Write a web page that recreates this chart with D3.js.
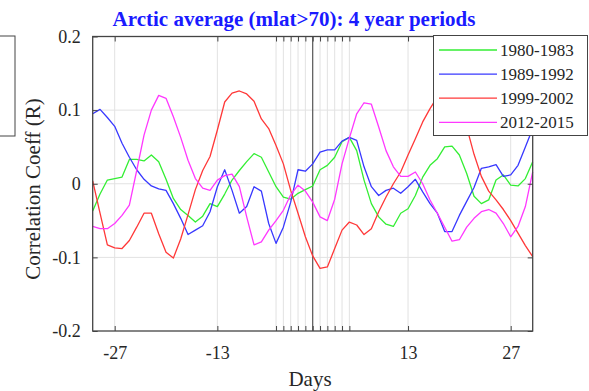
<!DOCTYPE html>
<html>
<head>
<meta charset="utf-8">
<script src="https://cdn.jsdelivr.net/npm/d3@7"></script>
<style>
  body { margin: 0; background: #fff; }
  svg { display: block; font-family: "Liberation Serif", "Times New Roman", serif; }
</style>
</head>
<body>
<svg id="chart" width="589" height="391"></svg>
<script>
const days = [-30, -29, -28, -27, -26, -25, -24, -23, -22, -21, -20, -19, -18, -17, -16, -15,
  -14, -13, -12, -11, -10, -9, -8, -7, -6, -5, -4, -3, -2, -1, 0, 1, 2, 3, 4, 5, 6, 7, 8, 9,
  10, 11, 12, 13, 14, 15, 16, 17, 18, 19, 20, 21, 22, 23, 24, 25, 26, 27, 28, 29, 30];

const r1980 = [-0.037, -0.014, 0.005, 0.007, 0.009, 0.033, 0.033, 0.031, 0.039, 0.030, 0.006,
  -0.020, -0.035, -0.043, -0.052, -0.044, -0.027, -0.031, -0.014, 0.005, 0.018, 0.030, 0.041,
  0.036, 0.016, -0.004, -0.018, -0.021, -0.013, -0.008, -0.003, 0.019, 0.025, 0.036, 0.057,
  0.063, 0.045, 0.005, -0.027, -0.045, -0.055, -0.058, -0.040, -0.034, -0.016, 0.009, 0.025,
  0.034, 0.050, 0.051, 0.039, 0.014, -0.017, -0.027, -0.022, 0.005, 0.012, -0.002, -0.003,
  0.007, 0.030];

const r1989 = [0.095, 0.101, 0.090, 0.078, 0.055, 0.036, 0.019, 0.006, -0.003, -0.007, -0.009,
  -0.027, -0.047, -0.069, -0.063, -0.057, -0.038, -0.004, 0.019, -0.009, -0.040, -0.031, -0.004,
  -0.010, -0.054, -0.081, -0.059, -0.025, 0.019, 0.017, 0.027, 0.043, 0.046, 0.046, 0.058,
  0.063, 0.059, 0.023, -0.004, -0.016, -0.009, -0.006, -0.013, -0.004, 0.006, -0.011, -0.027,
  -0.040, -0.065, -0.065, -0.043, -0.024, -0.005, 0.021, 0.023, 0.026, 0.010, 0.012, 0.025,
  0.050, 0.075];

const r1999 = [0.004, -0.040, -0.083, -0.087, -0.088, -0.077, -0.059, -0.040, -0.040, -0.068,
  -0.093, -0.101, -0.075, -0.042, -0.008, 0.018, 0.037, 0.073, 0.111, 0.123, 0.126, 0.122,
  0.112, 0.088, 0.075, 0.052, 0.027, -0.009, -0.040, -0.072, -0.098, -0.115, -0.113, -0.088,
  -0.063, -0.052, -0.056, -0.069, -0.061, -0.038, -0.018, 0.000, 0.016, 0.039, 0.061, 0.084,
  0.102, 0.118, 0.127, 0.124, 0.105, 0.077, 0.040, 0.010, -0.010, -0.022, -0.035, -0.050,
  -0.067, -0.084, -0.099];

const r2012 = [-0.058, -0.061, -0.061, -0.054, -0.043, -0.029, 0.018, 0.066, 0.100, 0.120,
  0.116, 0.091, 0.063, 0.032, 0.007, -0.006, -0.009, 0.005, 0.011, 0.013, -0.004, -0.045,
  -0.083, -0.079, -0.063, -0.050, -0.036, -0.015, -0.002, -0.010, -0.025, -0.045, -0.050,
  -0.021, 0.027, 0.062, 0.095, 0.110, 0.108, 0.077, 0.045, 0.023, 0.010, 0.010, 0.016, 0.000,
  -0.022, -0.040, -0.059, -0.078, -0.076, -0.059, -0.047, -0.038, -0.035, -0.040, -0.054,
  -0.072, -0.058, -0.031, 0.016];

const seriesNames = ["1980-1983", "1989-1992", "1999-2002", "2012-2015"];
const seriesColors = ["#33ee33", "#3838ff", "#ff3838", "#ff38ff"];
const seriesValues = [r1980, r1989, r1999, r2012];

const xTicks = [-27, -13, -5, -4, -3, -2, -1, 0, 1, 2, 3, 4, 5, 13, 27];
const xLabelTicks = [-27, -13, 13, 27];
const yTicks = [-0.2, -0.1, 0, 0.1, 0.2];
const yTickLabels = ["-0.2", "-0.1", "0", "0.1", "0.2"];

const plot = { left: 92.7, right: 532.7, top: 36.5, bottom: 331 };

const svg = d3.select("#chart");

const x = d3.scaleLinear().domain([-30, 30]).range([plot.left, plot.right]);
const y = d3.scaleLinear().domain([-0.2, 0.2]).range([plot.bottom, plot.top]);

// neighbouring legend box cut off at the left edge
svg.append("rect")
  .attr("x", -5).attr("y", 36).attr("width", 20).attr("height", 100)
  .attr("fill", "#fff").attr("stroke", "#444").attr("stroke-width", 1);

// grid
svg.append("g").selectAll("line")
  .data(xTicks.filter(d => d !== 0))
  .enter().append("line")
  .attr("x1", d => x(d)).attr("x2", d => x(d))
  .attr("y1", plot.top).attr("y2", plot.bottom)
  .attr("stroke", "#e2e2e2").attr("stroke-width", 1);

svg.append("g").selectAll("line")
  .data(yTicks.slice(1, -1))
  .enter().append("line")
  .attr("x1", plot.left).attr("x2", plot.right)
  .attr("y1", d => y(d)).attr("y2", d => y(d))
  .attr("stroke", "#e2e2e2").attr("stroke-width", 1);

// line at day 0
svg.append("line")
  .attr("x1", x(0)).attr("x2", x(0))
  .attr("y1", plot.top).attr("y2", plot.bottom)
  .attr("stroke", "#555").attr("stroke-width", 1.2);

// series
const line = d3.line()
  .x((d, i) => x(days[i]))
  .y(d => y(d));

seriesValues.forEach((vals, k) => {
  svg.append("path")
    .datum(vals)
    .attr("fill", "none")
    .attr("stroke", seriesColors[k])
    .attr("stroke-width", 1.3)
    .attr("stroke-linejoin", "round")
    .attr("d", line);
});

// axes, ticks pointing inward
const fmtX = d => xLabelTicks.includes(d) ? String(d) : "";

svg.append("g")
  .attr("transform", `translate(0,${plot.bottom})`)
  .call(d3.axisBottom(x).tickValues(xTicks).tickFormat(fmtX).tickSize(-5).tickPadding(15));

svg.append("g")
  .attr("transform", `translate(0,${plot.top})`)
  .call(d3.axisTop(x).tickValues(xTicks).tickFormat("").tickSize(-5));

svg.append("g")
  .attr("transform", `translate(${plot.left},0)`)
  .call(d3.axisLeft(y).tickValues(yTicks).tickFormat((d, i) => yTickLabels[i]).tickSize(-5).tickPadding(12));

svg.append("g")
  .attr("transform", `translate(${plot.right},0)`)
  .call(d3.axisRight(y).tickValues(yTicks).tickFormat("").tickSize(-5));

svg.selectAll(".domain").remove();
svg.selectAll(".tick line").attr("stroke", "#444");
svg.selectAll(".tick text")
  .attr("fill", "#262626")
  .style("font-family", "'Liberation Serif', 'Times New Roman', serif")
  .style("font-size", "18px");

// box
svg.append("rect")
  .attr("x", plot.left).attr("y", plot.top)
  .attr("width", plot.right - plot.left).attr("height", plot.bottom - plot.top)
  .attr("fill", "none").attr("stroke", "#444").attr("stroke-width", 1.3);

// title and labels
svg.append("text")
  .attr("x", 294).attr("y", 26)
  .attr("text-anchor", "middle")
  .attr("fill", "#1a1aff")
  .style("font-size", "21px").style("font-weight", "bold")
  .text("Arctic average (mlat>70): 4 year periods");

svg.append("text")
  .attr("x", 310).attr("y", 386)
  .attr("text-anchor", "middle")
  .attr("fill", "#262626")
  .style("font-size", "21px")
  .text("Days");

svg.append("text")
  .attr("transform", "translate(40,189) rotate(-90)")
  .attr("text-anchor", "middle")
  .attr("fill", "#262626")
  .style("font-size", "21px")
  .text("Correlation Coeff (R)");

// legend
const legend = svg.append("g");
legend.append("rect")
  .attr("x", 433.5).attr("y", 35.5).attr("width", 154).attr("height", 100)
  .attr("fill", "#fff").attr("stroke", "#444").attr("stroke-width", 1);

seriesNames.forEach((name, k) => {
  const cy = 50 + k * 24.1;
  legend.append("line")
    .attr("x1", 439).attr("x2", 497)
    .attr("y1", cy).attr("y2", cy)
    .attr("stroke", seriesColors[k]).attr("stroke-width", 1.3);
  legend.append("text")
    .attr("x", 500).attr("y", cy + 6)
    .attr("fill", "#262626")
    .style("font-size", "17px")
    .text(name);
});
</script>
</body>
</html>
